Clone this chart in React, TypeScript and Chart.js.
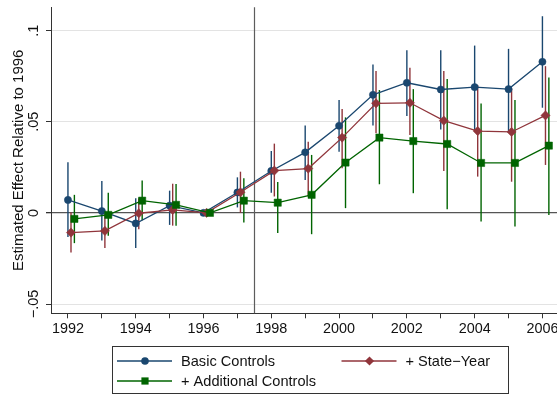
import React, { useEffect, useRef } from "react";
import { Chart, registerables } from "chart.js";

Chart.register(...registerables);

// Event-study estimates, relative to the 1996 base year
const years = [1992, 1993, 1994, 1995, 1996, 1997, 1998, 1999, 2000, 2001, 2002, 2003, 2004, 2005, 2006];

const basicEst = [0.0071, 0.001, -0.0058, 0.004, 0, 0.0112, 0.023, 0.0332, 0.0478, 0.0648, 0.0714, 0.0677, 0.069, 0.0679, 0.0829];
const basicLow = [-0.0133, -0.0151, -0.0193, -0.0066, null, 0.003, 0.011, 0.018, 0.0336, 0.048, 0.0531, 0.0458, 0.0455, 0.0445, 0.0577];
const basicHigh = [0.0278, 0.0175, 0.008, 0.0122, null, 0.0195, 0.034, 0.048, 0.0619, 0.0814, 0.0893, 0.0893, 0.0918, 0.09, 0.1079];

const stateEst = [-0.0108, -0.0099, -0.0002, 0.0016, 0, 0.0113, 0.0232, 0.0243, 0.0413, 0.0601, 0.0604, 0.0506, 0.0449, 0.0444, 0.0535];
const stateLow = [-0.0217, -0.0193, -0.009, -0.007, null, 0.0, 0.009, 0.009, 0.0245, 0.0437, 0.0427, 0.023, 0.0199, 0.0171, 0.0263];
const stateHigh = [0.0003, -0.0003, 0.008, 0.016, null, 0.0226, 0.038, 0.039, 0.057, 0.0778, 0.0796, 0.0778, 0.0701, 0.0683, 0.0805];

const addlEst = [-0.0033, -0.0011, 0.0067, 0.0044, 0, 0.0067, 0.0056, 0.0099, 0.0276, 0.0413, 0.0394, 0.0378, 0.0274, 0.0274, 0.0369];
const addlLow = [-0.0166, -0.0126, -0.004, -0.0071, null, -0.0053, -0.0111, -0.0117, 0.0026, 0.0157, 0.0108, 0.002, -0.0047, -0.0075, -0.0011];
const addlHigh = [0.0099, 0.011, 0.0177, 0.0159, null, 0.019, 0.017, 0.0318, 0.0524, 0.0674, 0.0679, 0.0734, 0.06, 0.0619, 0.0743];

const yTickValues = [-0.05, 0, 0.05, 0.1];
const yTickLabels = ["\u2212.05", "0", ".05", ".1"];
const baseYearDivider = 1997.5;
const yTitle = "Estimated Effect Relative to 1996";

const FONT = '"Liberation Sans", Arial, Helvetica, sans-serif';

const series = [
  { label: "Basic Controls", est: basicEst, low: basicLow, high: basicHigh, offset: 0, color: "#1a476f", marker: "circle" },
  { label: "+ State\u2212Year", est: stateEst, low: stateLow, high: stateHigh, offset: 0.09, color: "#90353b", marker: "rectRot" },
  { label: "+ Additional Controls", est: addlEst, low: addlLow, high: addlHigh, offset: 0.19, color: "#006400", marker: "rect" },
];

function drawMarker(ctx: CanvasRenderingContext2D, kind: string, x: number, y: number, color: string) {
  ctx.save();
  ctx.fillStyle = color;
  ctx.beginPath();
  if (kind === "circle") {
    ctx.arc(x, y, 3.8, 0, Math.PI * 2);
  } else if (kind === "rectRot") {
    const r = 4.6;
    ctx.moveTo(x - r, y);
    ctx.lineTo(x, y - r);
    ctx.lineTo(x + r, y);
    ctx.lineTo(x, y + r);
    ctx.closePath();
  } else {
    const h = 3.6;
    ctx.rect(x - h, y - h, h * 2, h * 2);
  }
  ctx.fill();
  ctx.restore();
}

const overlay = {
  id: "overlay",
  beforeDatasetsDraw(chart: any) {
    const { ctx, chartArea } = chart;
    const xs = chart.scales.x;
    const ys = chart.scales.y;
    ctx.save();
    // vertical divider between pre and post periods
    const dx = Math.round(xs.getPixelForValue(baseYearDivider)) + 0.5;
    ctx.strokeStyle = "#5c5c5c";
    ctx.lineWidth = 1.2;
    ctx.beginPath();
    ctx.moveTo(dx, chartArea.top);
    ctx.lineTo(dx, chartArea.bottom);
    ctx.stroke();
    // confidence interval spikes
    series.forEach((s) => {
      ctx.strokeStyle = s.color;
      ctx.lineWidth = 1.4;
      years.forEach((yr, i) => {
        const lo = s.low[i];
        const hi = s.high[i];
        if (lo == null || hi == null) return;
        const cx = xs.getPixelForValue(yr + s.offset);
        ctx.beginPath();
        ctx.moveTo(cx, ys.getPixelForValue(lo));
        ctx.lineTo(cx, ys.getPixelForValue(hi));
        ctx.stroke();
      });
    });
    ctx.restore();
  },
  afterDraw(chart: any) {
    const { ctx, chartArea } = chart;
    const ys = chart.scales.y;
    ctx.save();
    ctx.fillStyle = "#111";
    ctx.font = `14.4px ${FONT}`;
    ctx.textAlign = "center";
    ctx.textBaseline = "alphabetic";
    // rotated y tick labels
    yTickValues.forEach((v, i) => {
      const py = ys.getPixelForValue(v);
      ctx.save();
      ctx.translate(38, py);
      ctx.rotate(-Math.PI / 2);
      ctx.fillText(yTickLabels[i], 0, 0);
      ctx.restore();
    });
    // y axis title
    ctx.save();
    ctx.font = `15px ${FONT}`;
    ctx.translate(23, (chartArea.top + chartArea.bottom) / 2);
    ctx.rotate(-Math.PI / 2);
    ctx.fillText(yTitle, 0, 0);
    ctx.restore();

    // legend
    ctx.strokeStyle = "#333";
    ctx.lineWidth = 1;
    ctx.strokeRect(112.5, 346.5, 396, 47);
    const rows = [
      { s: series[0], x0: 117, y: 361 },
      { s: series[1], x0: 341.5, y: 361 },
      { s: series[2], x0: 117, y: 381 },
    ];
    ctx.textAlign = "left";
    ctx.textBaseline = "middle";
    ctx.font = `14.6px ${FONT}`;
    rows.forEach(({ s, x0, y }) => {
      ctx.strokeStyle = s.color;
      ctx.lineWidth = 1.3;
      ctx.beginPath();
      ctx.moveTo(x0, y);
      ctx.lineTo(x0 + 55, y);
      ctx.stroke();
      drawMarker(ctx, s.marker, x0 + 28, y, s.color);
      ctx.fillStyle = "#111";
      ctx.fillText(s.label, x0 + 64, y + 0.5);
    });
    ctx.restore();
  },
};

export default function App() {
  const canvasRef = useRef<HTMLCanvasElement>(null);

  useEffect(() => {
    document.body.style.margin = "0";
    const canvas = canvasRef.current;
    if (!canvas) return;

    const datasets = series.map((s, k) => ({
      label: s.label,
      data: years.map((yr, i) => ({ x: yr + s.offset, y: s.est[i] })),
      showLine: true,
      borderColor: s.color,
      backgroundColor: s.color,
      borderWidth: 1.3,
      pointStyle: s.marker,
      pointRadius: s.marker === "circle" ? 3.6 : s.marker === "rectRot" ? 4.6 : 5.1,
      pointBorderWidth: 0.5,
      pointBorderColor: s.color,
      pointBackgroundColor: s.color,
      clip: false,
      order: 3 - k,
    }));

    const chart = new Chart(canvas, {
      type: "scatter",
      data: { datasets },
      options: {
        animation: false,
        responsive: false,
        devicePixelRatio: 1,
        layout: { autoPadding: false, padding: { top: 7.3, left: 0, right: 0, bottom: 0 } },
        plugins: { legend: { display: false }, tooltip: { enabled: false } },
        scales: {
          x: {
            type: "linear",
            min: 1991.5,
            max: 2006.43,
            afterBuildTicks: (scale: any) => {
              scale.ticks = years.map((v) => ({ value: v }));
            },
            afterFit: (scale: any) => {
              scale.height = 82.7;
              scale.paddingLeft = 0;
              scale.paddingRight = 0;
            },
            grid: { drawOnChartArea: false, drawTicks: true, tickLength: 5, tickColor: "#333", color: "#333" },
            border: { display: true, color: "#333", width: 1 },
            ticks: {
              autoSkip: false,
              maxRotation: 0,
              minRotation: 0,
              padding: 2,
              color: "#111",
              font: { family: FONT, size: 14.4 },
              callback: (v: any) => (Number(v) % 2 === 0 ? String(v) : ""),
            },
          },
          y: {
            type: "linear",
            min: -0.0551,
            max: 0.1128,
            afterBuildTicks: (scale: any) => {
              scale.ticks = yTickValues.map((v) => ({ value: v }));
            },
            afterFit: (scale: any) => {
              scale.width = 51;
              scale.paddingTop = 0;
              scale.paddingBottom = 0;
            },
            grid: {
              drawTicks: true,
              tickLength: 5,
              tickColor: "#333",
              color: (c: any) => (c.tick && c.tick.value === 0 ? "#555555" : "#e3e3e3"),
              lineWidth: (c: any) => (c.tick && c.tick.value === 0 ? 1.3 : 1),
            },
            border: { display: true, color: "#333", width: 1 },
            ticks: { display: false },
          },
        },
      },
      plugins: [overlay],
    } as any);

    return () => chart.destroy();
  }, []);

  return (
    <div style={{ width: 557, height: 396, background: "#fff" }}>
      <canvas ref={canvasRef} width={557} height={396} style={{ display: "block" }} />
    </div>
  );
}
